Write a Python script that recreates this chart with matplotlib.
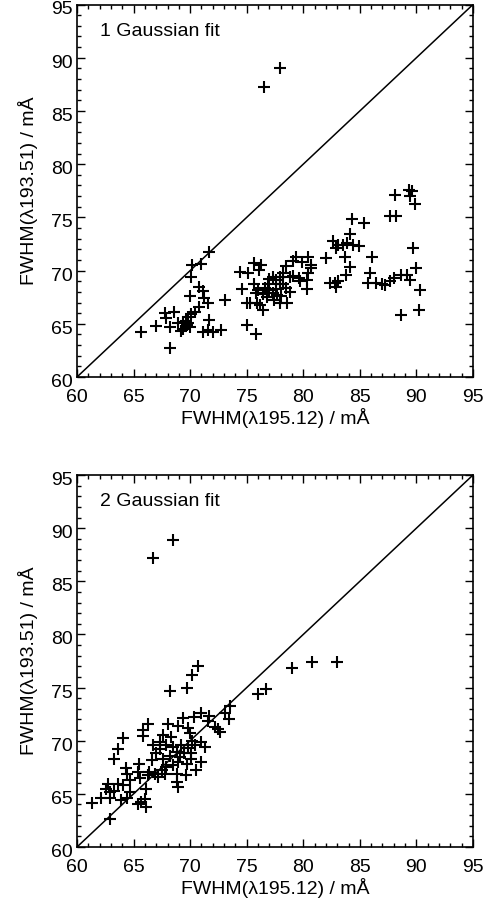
import matplotlib
matplotlib.use("Agg")
import matplotlib.pyplot as plt
from matplotlib.ticker import MultipleLocator
from matplotlib.transforms import ScaledTranslation

plt.rcParams['font.family'] = ['Liberation Sans', 'DejaVu Sans']

# Panel 1: 1 Gaussian fit
x1 = [77.9, 76.5,
      88.1, 89.3, 89.6, 89.4, 89.9, 87.7, 88.2, 84.3, 85.4, 84.1, 82.65, 83.1, 83.5, 83.9,
      84.4, 84.9, 82.9, 89.7, 83.7, 86.1, 82.0, 90.0, 84.1, 83.8, 85.9, 88.0, 88.6, 89.2,
      89.4, 87.7, 82.4, 82.8, 83.1, 82.9, 85.7, 86.4, 87.0, 87.2, 90.3, 88.6, 90.2,
      75.6, 76.3, 74.4, 75.1, 76.1, 74.6, 75.6, 76.0, 75.8, 75.0, 75.3, 75.9, 76.2, 76.4,
      75.0, 75.8, 73.1, 79.4, 79.1, 79.85, 80.4, 80.7, 80.7, 80.4, 80.3, 80.3, 79.6, 79.7,
      79.1, 78.8, 78.5, 78.2, 77.9, 77.6, 77.3, 77.0, 76.9, 76.6, 77.0, 77.3, 77.6, 77.9,
      78.2, 78.5, 78.8, 77.7, 78.0, 77.4, 77.9, 78.6, 76.8, 76.45,
      71.65, 71.0, 70.2, 70.1, 70.8, 71.15, 70.0, 71.2, 71.6, 70.8, 70.4, 70.1, 69.8, 69.6,
      69.4, 69.7, 70.0, 69.4, 69.2, 69.8, 68.6, 67.8, 67.9, 68.2, 68.9, 67.0, 65.7, 68.2,
      71.1, 71.6, 72.0, 72.7, 71.7]
y1 = [89.0, 87.25,
      77.1, 77.6, 77.5, 77.0, 76.25, 75.1, 75.1, 74.8, 74.5, 73.4, 72.75, 72.4, 72.4, 72.6,
      72.4, 72.3, 72.1, 72.1, 71.25, 71.3, 71.2, 70.2, 70.3, 69.6, 69.75, 69.3, 69.6, 69.6,
      69.1, 69.0, 68.8, 68.8, 69.0, 68.5, 68.8, 68.8, 68.7, 68.6, 68.2, 65.8, 66.25,
      70.7, 70.5, 69.9, 69.75, 70.1, 68.3, 68.75, 68.2, 67.9, 67.0, 67.0, 67.0, 66.8, 66.25,
      64.9, 64.0, 67.2, 71.25, 70.9, 70.8, 71.25, 70.5, 70.2, 69.8, 69.1, 68.3, 69.3, 69.0,
      69.5, 69.4, 70.4, 69.8, 69.4, 69.1, 69.4, 69.2, 68.75, 68.4, 68.2, 67.9, 68.3, 68.75,
      68.7, 68.4, 68.0, 67.75, 67.6, 67.2, 67.0, 67.0, 67.5, 67.8,
      71.7, 70.6, 70.5, 69.4, 68.5, 68.1, 67.6, 67.4, 67.0, 66.6, 66.1, 65.9, 65.6, 65.3,
      65.2, 64.9, 64.7, 64.5, 64.3, 65.1, 66.1, 66.0, 65.5, 64.7, 65.1, 64.8, 64.2, 62.75,
      64.2, 64.4, 64.2, 64.4, 65.4]

# Panel 2: 2 Gaussian fit
x2 = [68.5, 66.7, 70.7, 70.2, 69.7, 68.2, 79.0, 80.8, 82.95, 76.0, 76.7, 73.5, 73.1, 73.4,
      71.0, 71.65, 71.6, 72.2, 72.6, 72.5, 70.3, 69.4, 68.0, 66.3, 65.8, 65.8, 64.1, 63.6,
      63.3, 64.3, 68.9, 69.8, 67.6, 67.3, 68.35, 70.0, 70.2, 71.0, 71.3, 70.4, 69.8, 69.2,
      68.5, 67.9, 67.3, 66.7, 67.0, 67.6, 68.2, 68.8, 69.1, 69.5, 70.1, 70.1, 69.7, 68.9,
      68.5, 67.9, 67.5, 66.9, 66.4, 66.6, 71.0, 70.5, 69.6, 68.8, 68.8, 68.9, 67.8, 67.2,
      66.3, 65.5, 65.4, 65.6, 66.1, 66.0, 65.7, 65.4, 66.1, 64.4, 64.7, 64.7, 64.4, 63.9,
      64.1, 63.6, 62.7, 62.6, 62.95, 62.9, 63.3, 62.1, 61.3, 62.95]
y2 = [88.9, 87.15, 77.0, 76.2, 75.0, 74.7, 76.8, 77.4, 77.4, 74.4, 74.9, 73.3, 72.6, 72.0,
      72.6, 72.3, 71.9, 71.3, 70.8, 71.1, 72.2, 72.1, 71.55, 71.55, 71.0, 70.4, 70.3, 69.2,
      68.3, 67.4, 71.4, 71.2, 70.5, 69.9, 70.35, 70.7, 70.0, 69.9, 69.4, 69.6, 69.3, 69.6,
      69.4, 69.6, 69.2, 69.6, 68.8, 68.3, 68.6, 68.9, 68.5, 68.8, 68.8, 68.3, 67.85, 68.0,
      67.7, 67.5, 67.2, 66.9, 67.1, 68.2, 68.0, 67.2, 66.8, 66.9, 66.1, 65.65, 66.9, 66.6,
      66.75, 67.85, 67.1, 66.5, 65.5, 64.55, 64.25, 64.0, 63.8, 66.9, 66.3, 65.2, 64.6, 64.4,
      65.8, 65.95, 65.95, 65.5, 65.2, 64.6, 65.3, 64.65, 64.15, 62.6]

panel_labels = ["1 Gaussian fit", "2 Gaussian fit"]
xlabel = "FWHM(λ195.12) / mÅ"
ylabel = "FWHM(λ193.51) / mÅ"
lim = (60, 95)

W, H = 489, 901
FS = 14
fig = plt.figure(figsize=(W / 100, H / 100), dpi=100)
boxes = [(77, 4.5, 473, 377), (77, 475, 473, 847)]
data = [(x1, y1), (x2, y2)]

for (l, t, r, b), (xs, ys), lab in zip(boxes, data, panel_labels):
    ax = fig.add_axes([l / W, 1 - b / H, (r - l) / W, (b - t) / H])
    ax.plot(lim, lim, color='black', lw=1.1)
    ax.plot(xs, ys, linestyle='none', marker='+', color='black',
            markersize=8.5, markeredgewidth=1.5)
    ax.set_xlim(*lim)
    ax.set_ylim(*lim)
    ax.xaxis.set_major_locator(MultipleLocator(5))
    ax.yaxis.set_major_locator(MultipleLocator(5))
    ax.xaxis.set_minor_locator(MultipleLocator(1))
    ax.yaxis.set_minor_locator(MultipleLocator(1))
    ax.tick_params(which='both', direction='in', top=True, right=True,
                   labelsize=FS, width=1.0, color='black')
    ax.tick_params(axis='y', pad=3)
    ax.tick_params(axis='x', pad=9)
    ax.tick_params(which='major', length=5.5)
    ax.tick_params(which='minor', length=2.8)
    for s in ax.spines.values():
        s.set_linewidth(1.2)
    off = ScaledTranslation(0, -3.5 / 100, fig.dpi_scale_trans)
    for tk in ax.yaxis.get_major_ticks():
        tk.label1.set_transform(tk.label1.get_transform() + off)
    ax.set_xlabel(xlabel, fontsize=FS, labelpad=1)
    ax.set_ylabel(ylabel, fontsize=FS)
    ax.yaxis.set_label_coords(-0.098, 0.5)
    ax.text(62.0, 92.5, lab, fontsize=FS, va='center', ha='left')

fig.savefig("out.png", dpi=100)
